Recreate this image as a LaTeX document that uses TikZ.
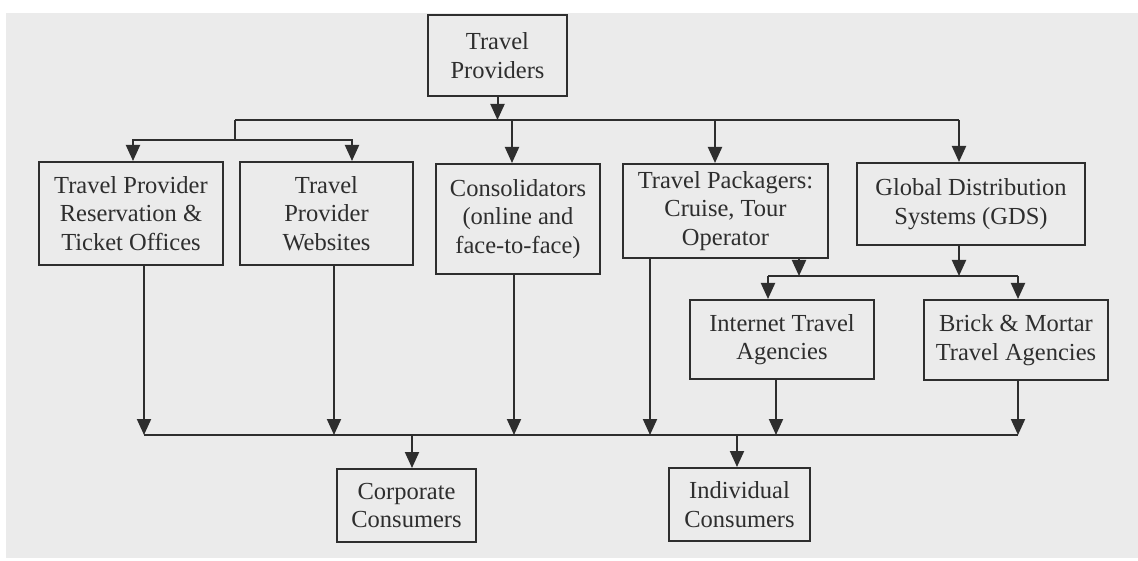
\documentclass[tikz,border=0pt]{standalone}
\usepackage{fontspec}
\setmainfont{Liberation Serif}
\usetikzlibrary{arrows.meta}
\definecolor{bg}{HTML}{EBEBEB}
\definecolor{ink}{HTML}{2E2E2E}
\tikzset{
  box/.style={draw=ink, line width=2pt, inner sep=0pt, align=center,
    text=ink, font=\fontsize{24.5}{28.5}\selectfont},
  conn/.style={draw=ink, line width=2pt},
  arr/.style={conn, -{Triangle[width=14pt,length=16pt]}}
}
\begin{document}
\begin{tikzpicture}[x=1pt,y=-1pt]
\useasboundingbox (0,0) rectangle (1138,561);
\fill[white] (0,0) rectangle (1138,561);
\fill[bg] (6,13) rectangle (1138,558);

% nodes
\node[box, minimum width=139pt, minimum height=81pt] (tp) at (497.5,55.5) {Travel\\Providers};
\node[box, minimum width=184pt, minimum height=103pt] (b1) at (131,213.5) {Travel Provider\\Reservation \&\\Ticket Offices};
\node[box, minimum width=173pt, minimum height=103pt] (b2) at (326.5,213.5) {Travel\\Provider\\Websites};
\node[box, minimum width=164pt, minimum height=110pt] (b3) at (518,219) {Consolidators\\(online and\\face-to-face)};
\node[box, minimum width=205pt, minimum height=94pt] (b4) at (725.5,211) {Travel Packagers:\\Cruise, Tour\\Operator};
\node[box, minimum width=228pt, minimum height=82pt] (b5) at (971,204) {Global Distribution\\Systems (GDS)};
\node[box, minimum width=184pt, minimum height=79pt] (ita) at (782,339.5) {Internet Travel\\Agencies};
\node[box, minimum width=184pt, minimum height=80pt] (bma) at (1016,340) {Brick \& Mortar\\Travel Agencies};
\node[box, minimum width=139pt, minimum height=73pt] (cc) at (406.5,505.5) {Corporate\\Consumers};
\node[box, minimum width=141pt, minimum height=73pt] (ic) at (739.5,504.5) {Individual\\Consumers};

% top bus
\coordinate (t1) at (235,120);
\coordinate (t2) at (959,120);
\coordinate (s1) at (235,140);
\coordinate (s2) at (133,140);
\coordinate (s3) at (352,140);
\draw[conn] (t1) -- (t2);
\draw[arr] (tp.south) -- (tp.south |- t1);
\draw[conn] (t1) -- (s1);
\draw[arr] (s1) -| (b1.north -| s2);
\draw[arr] (s1) -| (b2.north -| s3);
\coordinate (t3) at (512,120);
\coordinate (t4) at (715,120);
\draw[arr] (t3) -- (b3.north -| t3);
\draw[arr] (t4) -- (b4.north -| t4);
\draw[arr] (t2) -- (b5.north -| t2);

% middle bus
\coordinate (m1) at (768,276);
\coordinate (m2) at (1018,276);
\coordinate (m3) at (799,276);
\coordinate (m4) at (959,276);
\draw[conn] (m1) -- (m2);
\draw[arr] (b4.south -| m3) -- (m3);
\draw[arr] (b5.south -| m4) -- (m4);
\draw[arr] (m1) -- (ita.north -| m1);
\draw[arr] (m2) -- (bma.north -| m2);

% bottom bus
\coordinate (u1) at (144,435);
\coordinate (u2) at (1018,435);
\coordinate (u3) at (334,435);
\coordinate (u4) at (514,435);
\coordinate (u5) at (650,435);
\coordinate (u6) at (776,435);
\coordinate (u7) at (412,435);
\coordinate (u8) at (737,435);
\draw[conn] (u1) -- (u2);
\draw[arr] (b1.south -| u1) -- (u1);
\draw[arr] (b2.south -| u3) -- (u3);
\draw[arr] (b3.south -| u4) -- (u4);
\draw[arr] (b4.south -| u5) -- (u5);
\draw[arr] (ita.south -| u6) -- (u6);
\draw[arr] (bma.south -| u2) -- (u2);
\draw[arr] (u7) -- (cc.north -| u7);
\draw[arr] (u8) -- (ic.north -| u8);
\end{tikzpicture}
\end{document}
